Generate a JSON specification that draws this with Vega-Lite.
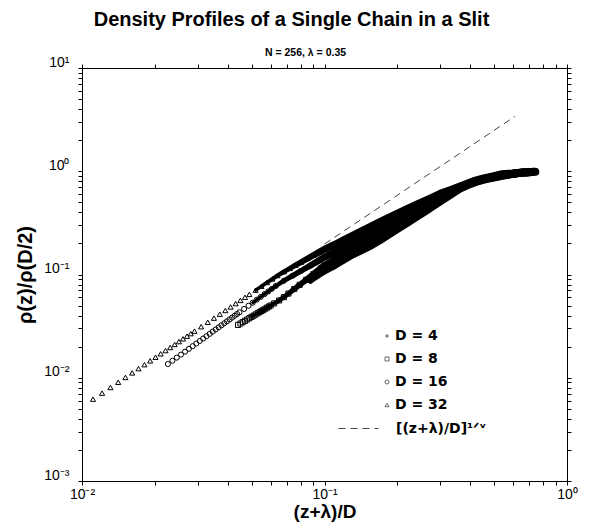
{
  "$schema": "https://vega.github.io/schema/vega-lite/v6.json",
  "width": 485,
  "height": 413,
  "autosize": {"type": "none"},
  "padding": {"left": 82, "top": 68, "right": 41, "bottom": 44},
  "title": {"text": "Density Profiles of a Single Chain in a Slit", "font": "Liberation Sans", "fontSize": 20, "fontWeight": "bold", "color": "black", "anchor": "middle", "dx": -33, "offset": 17},
  "config": {"view": {"stroke": "#000000", "strokeWidth": 1}, "axis": {"grid": false}},
  "data": {"values": [
    {"s":"D = 32","x":0.0111,"y":0.0062},{"s":"D = 32","x":0.0121,"y":0.0071},{"s":"D = 32","x":0.0131,"y":0.00805},{"s":"D = 32","x":0.0141,"y":0.00904},{"s":"D = 32","x":0.0151,"y":0.01007},{"s":"D = 32","x":0.0161,"y":0.01114},{"s":"D = 32","x":0.0171,"y":0.01225},{"s":"D = 32","x":0.0181,"y":0.01339},{"s":"D = 32","x":0.0191,"y":0.01458},{"s":"D = 32","x":0.0201,"y":0.0158},{"s":"D = 32","x":0.0211,"y":0.01705},{"s":"D = 32","x":0.0221,"y":0.01833},{"s":"D = 32","x":0.0231,"y":0.01964},{"s":"D = 32","x":0.0241,"y":0.021},{"s":"D = 32","x":0.0251,"y":0.02239},{"s":"D = 32","x":0.0261,"y":0.02381},{"s":"D = 32","x":0.0271,"y":0.02527},{"s":"D = 32","x":0.0281,"y":0.02675},{"s":"D = 32","x":0.0291,"y":0.02827},{"s":"D = 32","x":0.031,"y":0.03122},{"s":"D = 32","x":0.033,"y":0.03446},{"s":"D = 32","x":0.035,"y":0.0378},{"s":"D = 32","x":0.037,"y":0.04126},{"s":"D = 32","x":0.039,"y":0.04482},{"s":"D = 32","x":0.041,"y":0.04849},{"s":"D = 32","x":0.043,"y":0.05227},{"s":"D = 32","x":0.045,"y":0.05614},{"s":"D = 32","x":0.047,"y":0.06011},{"s":"D = 32","x":0.049,"y":0.0642},{"s":"D = 32","x":0.052,"y":0.07048},{"s":"D = 32","x":0.055,"y":0.077},{"s":"D = 32","x":0.058,"y":0.08371},{"s":"D = 32","x":0.061,"y":0.09062},{"s":"D = 32","x":0.064,"y":0.09773},{"s":"D = 32","x":0.068,"y":0.1064},{"s":"D = 32","x":0.072,"y":0.1146},{"s":"D = 32","x":0.076,"y":0.1231},{"s":"D = 32","x":0.08,"y":0.1316},{"s":"D = 32","x":0.085,"y":0.1426},{"s":"D = 32","x":0.09,"y":0.1535},{"s":"D = 32","x":0.095,"y":0.1644},{"s":"D = 32","x":0.1,"y":0.1758},{"s":"D = 32","x":0.11,"y":0.1941},{"s":"D = 32","x":0.12,"y":0.2148},{"s":"D = 32","x":0.13,"y":0.236},{"s":"D = 32","x":0.14,"y":0.257},{"s":"D = 32","x":0.155,"y":0.2897},{"s":"D = 32","x":0.17,"y":0.3228},{"s":"D = 32","x":0.185,"y":0.3565},{"s":"D = 32","x":0.2,"y":0.389},{"s":"D = 32","x":0.22,"y":0.4315},{"s":"D = 32","x":0.24,"y":0.4742},{"s":"D = 32","x":0.26,"y":0.5164},{"s":"D = 32","x":0.28,"y":0.5598},{"s":"D = 32","x":0.3,"y":0.6039},{"s":"D = 32","x":0.33,"y":0.6561},{"s":"D = 32","x":0.36,"y":0.7096},{"s":"D = 32","x":0.39,"y":0.7621},{"s":"D = 32","x":0.42,"y":0.8128},{"s":"D = 32","x":0.45,"y":0.8472},{"s":"D = 32","x":0.48,"y":0.877},{"s":"D = 32","x":0.51,"y":0.9058},{"s":"D = 32","x":0.54,"y":0.9354},{"s":"D = 32","x":0.57,"y":0.9441},{"s":"D = 32","x":0.6,"y":0.9528},{"s":"D = 32","x":0.63,"y":0.9638},{"s":"D = 32","x":0.66,"y":0.9727},{"s":"D = 32","x":0.69,"y":0.9795},{"s":"D = 32","x":0.72,"y":0.9863},
    {"s":"D = 16","x":0.0226,"y":0.01357},{"s":"D = 16","x":0.0236,"y":0.0146},{"s":"D = 16","x":0.0246,"y":0.01567},{"s":"D = 16","x":0.0256,"y":0.01676},{"s":"D = 16","x":0.0266,"y":0.01789},{"s":"D = 16","x":0.0276,"y":0.01905},{"s":"D = 16","x":0.0286,"y":0.02024},{"s":"D = 16","x":0.0296,"y":0.02146},{"s":"D = 16","x":0.0306,"y":0.0227},{"s":"D = 16","x":0.0316,"y":0.02398},{"s":"D = 16","x":0.0326,"y":0.02528},{"s":"D = 16","x":0.0336,"y":0.02661},{"s":"D = 16","x":0.0346,"y":0.02797},{"s":"D = 16","x":0.0356,"y":0.02936},{"s":"D = 16","x":0.0366,"y":0.03077},{"s":"D = 16","x":0.0376,"y":0.03222},{"s":"D = 16","x":0.0386,"y":0.03369},{"s":"D = 16","x":0.0396,"y":0.03519},{"s":"D = 16","x":0.0406,"y":0.03671},{"s":"D = 16","x":0.0416,"y":0.03826},{"s":"D = 16","x":0.0426,"y":0.03983},{"s":"D = 16","x":0.0436,"y":0.04143},{"s":"D = 16","x":0.0446,"y":0.04307},{"s":"D = 16","x":0.0466,"y":0.0464},{"s":"D = 16","x":0.0486,"y":0.04984},{"s":"D = 16","x":0.0506,"y":0.05337},{"s":"D = 16","x":0.0526,"y":0.05702},{"s":"D = 16","x":0.0546,"y":0.06073},{"s":"D = 16","x":0.0566,"y":0.06456},{"s":"D = 16","x":0.0586,"y":0.06848},{"s":"D = 16","x":0.0606,"y":0.0725},{"s":"D = 16","x":0.063,"y":0.07745},{"s":"D = 16","x":0.068,"y":0.0869},{"s":"D = 16","x":0.074,"y":0.0975},{"s":"D = 16","x":0.08,"y":0.1084},{"s":"D = 16","x":0.087,"y":0.1213},{"s":"D = 16","x":0.095,"y":0.1368},{"s":"D = 16","x":0.1,"y":0.1469},{"s":"D = 16","x":0.11,"y":0.1637},{"s":"D = 16","x":0.12,"y":0.1832},{"s":"D = 16","x":0.13,"y":0.2023},{"s":"D = 16","x":0.14,"y":0.2203},{"s":"D = 16","x":0.155,"y":0.2477},{"s":"D = 16","x":0.17,"y":0.2786},{"s":"D = 16","x":0.185,"y":0.3105},{"s":"D = 16","x":0.2,"y":0.3428},{"s":"D = 16","x":0.22,"y":0.3855},{"s":"D = 16","x":0.24,"y":0.4295},{"s":"D = 16","x":0.26,"y":0.4742},{"s":"D = 16","x":0.28,"y":0.52},{"s":"D = 16","x":0.3,"y":0.5675},{"s":"D = 16","x":0.33,"y":0.631},{"s":"D = 16","x":0.36,"y":0.695},{"s":"D = 16","x":0.39,"y":0.7534},{"s":"D = 16","x":0.42,"y":0.8035},{"s":"D = 16","x":0.45,"y":0.8395},{"s":"D = 16","x":0.48,"y":0.869},{"s":"D = 16","x":0.51,"y":0.8954},{"s":"D = 16","x":0.54,"y":0.9226},{"s":"D = 16","x":0.57,"y":0.9354},{"s":"D = 16","x":0.6,"y":0.9484},{"s":"D = 16","x":0.63,"y":0.9616},{"s":"D = 16","x":0.66,"y":0.9727},{"s":"D = 16","x":0.69,"y":0.9795},{"s":"D = 16","x":0.72,"y":0.9863},
    {"s":"D = 8","x":0.044,"y":0.03246},{"s":"D = 8","x":0.045,"y":0.0335},{"s":"D = 8","x":0.046,"y":0.03454},{"s":"D = 8","x":0.047,"y":0.0356},{"s":"D = 8","x":0.048,"y":0.03666},{"s":"D = 8","x":0.049,"y":0.03774},{"s":"D = 8","x":0.05,"y":0.03882},{"s":"D = 8","x":0.051,"y":0.03991},{"s":"D = 8","x":0.052,"y":0.04101},{"s":"D = 8","x":0.053,"y":0.04212},{"s":"D = 8","x":0.054,"y":0.04324},{"s":"D = 8","x":0.055,"y":0.04436},{"s":"D = 8","x":0.056,"y":0.04549},{"s":"D = 8","x":0.057,"y":0.04664},{"s":"D = 8","x":0.058,"y":0.04779},{"s":"D = 8","x":0.059,"y":0.04895},{"s":"D = 8","x":0.06,"y":0.05011},{"s":"D = 8","x":0.062,"y":0.05247},{"s":"D = 8","x":0.065,"y":0.05605},{"s":"D = 8","x":0.068,"y":0.0604},{"s":"D = 8","x":0.071,"y":0.0653},{"s":"D = 8","x":0.075,"y":0.0723},{"s":"D = 8","x":0.079,"y":0.0794},{"s":"D = 8","x":0.084,"y":0.0888},{"s":"D = 8","x":0.09,"y":0.1007},{"s":"D = 8","x":0.097,"y":0.1156},{"s":"D = 8","x":0.1,"y":0.1222},{"s":"D = 8","x":0.11,"y":0.1374},{"s":"D = 8","x":0.12,"y":0.1556},{"s":"D = 8","x":0.13,"y":0.173},{"s":"D = 8","x":0.14,"y":0.1879},{"s":"D = 8","x":0.155,"y":0.2113},{"s":"D = 8","x":0.17,"y":0.2393},{"s":"D = 8","x":0.185,"y":0.2698},{"s":"D = 8","x":0.2,"y":0.3006},{"s":"D = 8","x":0.22,"y":0.3436},{"s":"D = 8","x":0.24,"y":0.3882},{"s":"D = 8","x":0.26,"y":0.4335},{"s":"D = 8","x":0.28,"y":0.4819},{"s":"D = 8","x":0.3,"y":0.5309},{"s":"D = 8","x":0.33,"y":0.6053},{"s":"D = 8","x":0.36,"y":0.6823},{"s":"D = 8","x":0.39,"y":0.743},{"s":"D = 8","x":0.42,"y":0.7925},{"s":"D = 8","x":0.45,"y":0.8318},{"s":"D = 8","x":0.48,"y":0.861},{"s":"D = 8","x":0.51,"y":0.885},{"s":"D = 8","x":0.54,"y":0.9099},{"s":"D = 8","x":0.57,"y":0.9268},{"s":"D = 8","x":0.6,"y":0.9441},{"s":"D = 8","x":0.63,"y":0.9605},{"s":"D = 8","x":0.66,"y":0.9705},{"s":"D = 8","x":0.69,"y":0.9795},{"s":"D = 8","x":0.72,"y":0.984},
    {"s":"D = 4","x":0.0875,"y":0.0871},{"s":"D = 4","x":0.09,"y":0.0918},{"s":"D = 4","x":0.093,"y":0.0968},{"s":"D = 4","x":0.096,"y":0.1019},{"s":"D = 4","x":0.1,"y":0.1081},{"s":"D = 4","x":0.105,"y":0.1153},{"s":"D = 4","x":0.11,"y":0.1225},{"s":"D = 4","x":0.116,"y":0.1327},{"s":"D = 4","x":0.12,"y":0.1396},{"s":"D = 4","x":0.13,"y":0.156},{"s":"D = 4","x":0.14,"y":0.1694},{"s":"D = 4","x":0.155,"y":0.1901},{"s":"D = 4","x":0.17,"y":0.2168},{"s":"D = 4","x":0.185,"y":0.246},{"s":"D = 4","x":0.2,"y":0.2761},{"s":"D = 4","x":0.22,"y":0.3184},{"s":"D = 4","x":0.24,"y":0.3631},{"s":"D = 4","x":0.26,"y":0.4093},{"s":"D = 4","x":0.28,"y":0.4581},{"s":"D = 4","x":0.3,"y":0.5093},{"s":"D = 4","x":0.33,"y":0.5888},{"s":"D = 4","x":0.36,"y":0.673},{"s":"D = 4","x":0.39,"y":0.7379},{"s":"D = 4","x":0.42,"y":0.787},{"s":"D = 4","x":0.45,"y":0.826},{"s":"D = 4","x":0.48,"y":0.8551},{"s":"D = 4","x":0.51,"y":0.879},{"s":"D = 4","x":0.54,"y":0.9026},{"s":"D = 4","x":0.57,"y":0.9215},{"s":"D = 4","x":0.6,"y":0.9419},{"s":"D = 4","x":0.63,"y":0.9594},{"s":"D = 4","x":0.66,"y":0.9705},{"s":"D = 4","x":0.69,"y":0.9795},{"s":"D = 4","x":0.72,"y":0.984},{"s":"D = 4","x":0.74,"y":0.9863}
  ]},
  "layer": [
    {
      "data": {"values": [
        {"k": "[(z+λ)/D]¹ᐟᵛ", "x": 0.1, "y": 0.1972},
        {"k": "[(z+λ)/D]¹ᐟᵛ", "x": 0.61, "y": 3.397}
      ]},
      "mark": {"type": "line", "color": "#444", "strokeWidth": 1},
      "encoding": {
        "x": {"field": "x", "type": "quantitative", "scale": {"type": "log", "domain": [0.01, 1], "nice": false},
          "axis": {"orient": "top", "values": [0.01,0.02,0.03,0.04,0.05,0.06,0.07,0.08,0.09,0.1,0.2,0.3,0.4,0.5,0.6,0.7,0.8,0.9,1], "domain": true, "domainColor": "#000000", "domainWidth": 1, "ticks": true, "tickColor": "#000000", "tickWidth": 1, "tickSize": 4, "labels": true, "labelExpr": "''",
            "title": "N = 256, λ = 0.35", "titleFont": "Liberation Sans", "titleFontSize": 10.5, "titleFontWeight": "bold", "titleColor": "black", "titleX": 223, "titleY": -13, "titleBaseline": "alphabetic", "titleAlign": "center"}},
        "y": {"field": "y", "type": "quantitative", "scale": {"type": "log", "domain": [0.001, 10], "nice": false},
          "axis": {"orient": "right", "values": [0.001,0.002,0.003,0.004,0.005,0.006,0.007,0.008,0.009,0.01,0.02,0.03,0.04,0.05,0.06,0.07,0.08,0.09,0.1,0.2,0.3,0.4,0.5,0.6,0.7,0.8,0.9,1,2,3,4,5,6,7,8,9,10], "domain": true, "domainColor": "#000000", "domainWidth": 1, "ticks": true, "tickColor": "#000000", "tickWidth": 1, "tickSize": 4, "labels": true, "labelExpr": "''", "title": null}},
        "strokeDash": {"field": "k", "type": "nominal", "scale": {"range": [[7, 5]]},
          "legend": {"orient": "none", "legendX": 256, "legendY": 340, "title": null, "padding": 0, "labelFont": "DejaVu Sans", "labelFontWeight": "bold", "labelFontSize": 14, "labelColor": "black", "symbolSize": 1600, "symbolStrokeWidth": 1, "symbolStrokeColor": "#444", "labelOffset": 17}}
      }
    },
    {
      "transform": [{"filter": "datum.x >= 0.05"}],
      "mark": {"type": "trail", "color": "black"},
      "encoding": {
        "x": {"field": "x", "type": "quantitative", "axis": null},
        "y": {"field": "y", "type": "quantitative", "axis": null},
        "size": {"field": "x", "type": "quantitative", "scale": {"type": "log", "domain": [0.05, 0.12], "range": [3, 8], "clamp": true}, "legend": null},
        "detail": {"field": "s", "type": "nominal"}
      }
    },
    {
      "mark": {"type": "point", "filled": false, "stroke": "black", "strokeWidth": 1, "size": 26, "opacity": 1},
      "encoding": {
        "x": {"field": "x", "type": "quantitative",
          "axis": {"orient": "bottom", "values": [0.01,0.02,0.03,0.04,0.05,0.06,0.07,0.08,0.09,0.1,0.2,0.3,0.4,0.5,0.6,0.7,0.8,0.9,1], "ticks": true, "tickColor": "#000000", "tickWidth": 1, "tickSize": 4, "domain": true, "domainColor": "#000000", "domainWidth": 1, "labelOverlap": false, "labelFlush": false,
            "labelExpr": "datum.value == 1 ? '10⁰' : datum.value == 0.1 ? '10⁻¹' : datum.value == 0.01 ? '10⁻²' : ''",
            "labelFont": "Liberation Sans", "labelFontSize": 14, "labelColor": "black", "labelPadding": 2,
            "title": "(z+λ)/D", "titleFont": "Liberation Sans", "titleFontSize": 19, "titleFontWeight": "bold", "titleColor": "black", "titlePadding": 1}},
        "y": {"field": "y", "type": "quantitative",
          "axis": {"orient": "left", "values": [0.001,0.002,0.003,0.004,0.005,0.006,0.007,0.008,0.009,0.01,0.02,0.03,0.04,0.05,0.06,0.07,0.08,0.09,0.1,0.2,0.3,0.4,0.5,0.6,0.7,0.8,0.9,1,2,3,4,5,6,7,8,9,10], "ticks": true, "tickColor": "#000000", "tickWidth": 1, "tickSize": 4, "domain": true, "domainColor": "#000000", "domainWidth": 1, "labelOverlap": false, "labelFlush": false,
            "labelExpr": "datum.value == 10 ? '10¹' : datum.value == 1 ? '10⁰' : datum.value == 0.1 ? '10⁻¹' : datum.value == 0.01 ? '10⁻²' : datum.value == 0.001 ? '10⁻³' : ''",
            "labelFont": "Liberation Sans", "labelFontSize": 14, "labelColor": "black", "labelPadding": 9, "labelBaseline": "alphabetic", "labelOffset": -2,
            "title": "ρ(z)/ρ(D/2)", "titleFont": "Liberation Sans", "titleFontSize": 20, "titleFontWeight": "bold", "titleColor": "black", "titlePadding": 8}},
        "shape": {"field": "s", "type": "nominal",
          "scale": {"domain": ["D = 4", "D = 8", "D = 16", "D = 32"], "range": ["M-1,0H1M0,-1V1", "square", "circle", "triangle-up"]},
          "legend": {"orient": "none", "legendX": 298, "legendY": 261, "title": null, "padding": 0, "labelFont": "DejaVu Sans", "labelFontWeight": "bold", "labelFontSize": 14, "labelColor": "black", "symbolSize": 16, "symbolStrokeColor": "#444", "symbolStrokeWidth": 0.8, "symbolFillColor": "transparent", "rowPadding": 9, "labelOffset": 1}}
      }
    }
  ],
  "resolve": {"axis": {"x": "independent", "y": "independent"}}
}
